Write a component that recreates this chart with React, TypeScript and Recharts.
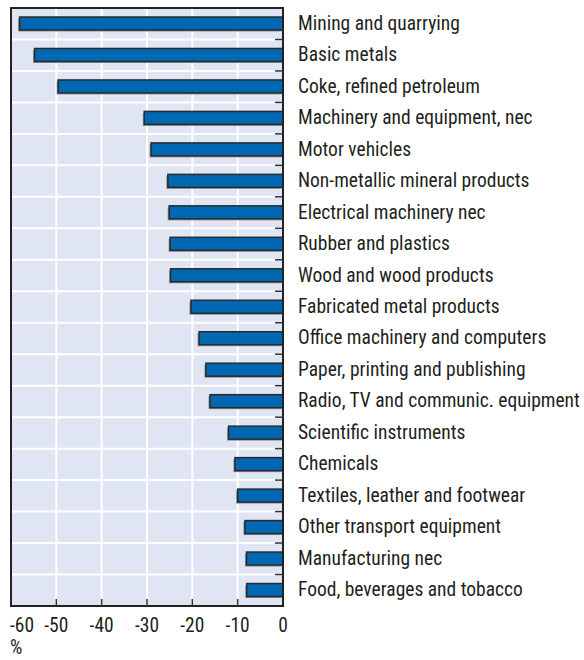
import React from "react"
import {
  BarChart,
  Bar,
  XAxis,
  YAxis,
  CartesianGrid,
  ReferenceArea,
} from "recharts"

// Change in share, %, by industry
const industries = [
  "Mining and quarrying",
  "Basic metals",
  "Coke, refined petroleum",
  "Machinery and equipment, nec",
  "Motor vehicles",
  "Non-metallic mineral products",
  "Electrical machinery nec",
  "Rubber and plastics",
  "Wood and wood products",
  "Fabricated metal products",
  "Office machinery and computers",
  "Paper, printing and publishing",
  "Radio, TV and communic. equipment",
  "Scientific instruments",
  "Chemicals",
  "Textiles, leather and footwear",
  "Other transport equipment",
  "Manufacturing nec",
  "Food, beverages and tobacco",
]

const values = [
  -58.1, -54.8, -49.6, -30.6, -29.1, -25.4, -25.1, -24.9, -24.8, -20.3,
  -18.5, -17.0, -16.1, -12.0, -10.6, -10.0, -8.4, -8.05, -8.0,
]

const xTicks = [-60, -50, -40, -30, -20, -10, 0]

const data = industries.map((name, i) => ({ name, value: values[i] }))

const FONT = "'Liberation Sans Narrow', 'Arial Narrow', 'Roboto Condensed', Roboto, sans-serif"
const TEXT = "#231f20"
const AXIS = "#222"

// bar with a thin grey drop shadow on the lower left, like the original
const renderBar = (p: any) => {
  const x = Number(p.x) || 0
  const y = Number(p.y) || 0
  const w = Number(p.width) || 0
  const h = Number(p.height) || 0
  const left = w < 0 ? x + w : x
  const aw = Math.abs(w)
  return (
    <g>
      <rect x={left - 1.5} y={y + 1.5} width={aw} height={h} fill="#8c9099" />
      <rect x={left} y={y} width={aw} height={h} fill="#0068b3" stroke="#2a2a2a" strokeWidth={1.5} />
    </g>
  )
}

const YTick = (props: any) => {
  const { x, y, payload, height } = props
  const band = height / industries.length
  const isLast = payload.index === industries.length - 1
  return (
    <g>
      {!isLast && (
        <line x1={x - 8} x2={x} y1={y + band / 2} y2={y + band / 2} stroke="#333" strokeWidth={1.5} />
      )}
      <text x={x + 15} y={y - 1} dy="0.36em" textAnchor="start" fill={TEXT} fontSize={19.5} fontFamily={FONT}>
        {payload.value}
      </text>
    </g>
  )
}

const XTick = (props: any) => {
  const { x, y, payload } = props
  const edge = payload.value === -60
  return (
    <g>
      {payload.value !== -60 && payload.value !== 0 && (
        <line x1={x} x2={x} y1={y} y2={y - 7} stroke="#333" strokeWidth={1.5} />
      )}
      <text
        x={edge ? x - 1 : x}
        y={y + 19}
        dy="0.36em"
        textAnchor={edge ? "start" : "middle"}
        fill={TEXT}
        fontSize={19.5}
        fontFamily={FONT}
      >
        {payload.value}
      </text>
    </g>
  )
}

export default function App() {
  const n = industries.length
  return (
    <div style={{ position: "absolute", left: 0, top: 0, width: 584, height: 660, background: "#fff" }}>
      <BarChart
        width={584}
        height={660}
        data={data}
        layout="vertical"
        barSize={13}
        margin={{ top: 8, right: 0, bottom: 24, left: 11 }}
      >
        <CartesianGrid
          fill="#e0e5f3"
          stroke="#ffffff"
          strokeWidth={2}
          horizontalCoordinatesGenerator={({ offset }: any) =>
            Array.from({ length: n + 1 }, (_, i) => offset.top + (i * offset.height) / n)
          }
        />
        <XAxis
          type="number"
          domain={[-60, 0]}
          ticks={xTicks}
          interval={0}
          height={30}
          tickSize={0}
          tickMargin={0}
          axisLine={{ stroke: AXIS, strokeWidth: 2 }}
          tick={<XTick />}
        />
        <YAxis
          type="category"
          dataKey="name"
          orientation="right"
          width={301}
          interval={0}
          tickSize={0}
          tickMargin={0}
          axisLine={{ stroke: AXIS, strokeWidth: 2 }}
          tick={<YTick />}
        />
        <ReferenceArea x1={-60} x2={0} fill="none" stroke={AXIS} strokeWidth={2} fillOpacity={0} />
        <Bar dataKey="value" fill="#0068b3" shape={renderBar} isAnimationActive={false} />
      </BarChart>
      <div
        style={{
          position: "absolute",
          left: 10,
          top: 638,
          fontFamily: FONT,
          fontSize: 19.5,
          color: TEXT,
          lineHeight: "20px",
        }}
      >
        %
      </div>
    </div>
  )
}
